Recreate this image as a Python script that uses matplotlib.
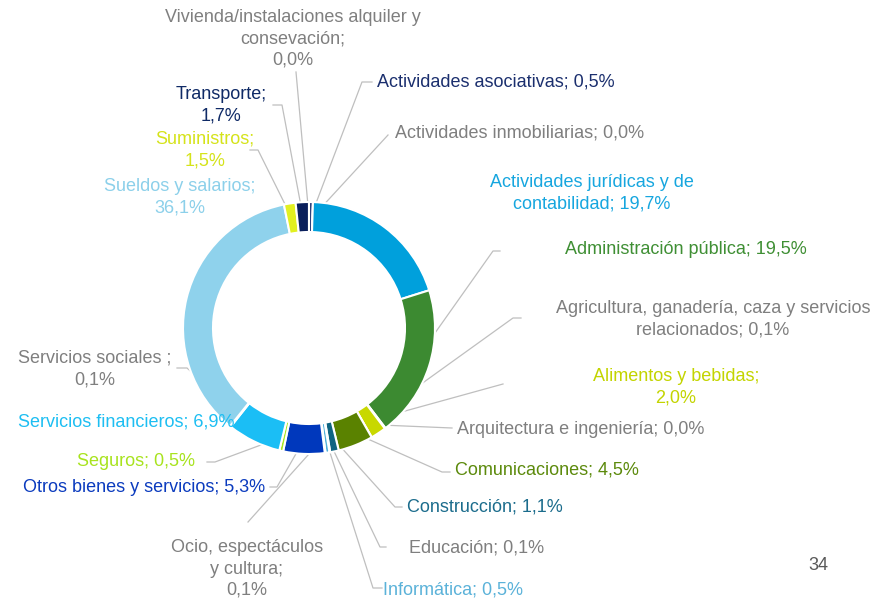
import matplotlib.pyplot as plt
import numpy as np

plt.rcParams['font.family'] = ['Liberation Sans', 'DejaVu Sans']

# Gasto por partida (%), en el orden de la tarta (sentido horario desde arriba)
categorias = [
    "Actividades asociativas",
    "Actividades inmobiliarias",
    "Actividades jurídicas y de\ncontabilidad",
    "Administración pública",
    "Agricultura, ganadería, caza y servicios\nrelacionados",
    "Alimentos y bebidas",
    "Arquitectura e ingeniería",
    "Comunicaciones",
    "Construcción",
    "Educación",
    "Informática",
    "Ocio, espectáculos\ny cultura",
    "Otros bienes y servicios",
    "Seguros",
    "Servicios financieros",
    "Servicios sociales ",
    "Sueldos y salarios",
    "Suministros",
    "Transporte",
    "Vivienda/instalaciones alquiler y\nconsevación",
]
porcentajes = [0.5, 0.0, 19.7, 19.5, 0.1, 2.0, 0.0, 4.5, 1.1, 0.1,
               0.5, 0.1, 5.3, 0.5, 6.9, 0.1, 36.1, 1.5, 1.7, 0.0]
separador = ["; ", "; ", "; ", "; ", "; ", ";\n", "; ", "; ", "; ", "; ",
             "; ", ";\n", "; ", "; ", "; ", ";\n", ";\n", ";\n", ";\n", ";\n"]

GRIS = '#7F7F7F'
colores = ['#12286A', '#A0A0A0', '#00A0DC', '#3C8A31', '#8AA05A', '#C8D800',
           '#A0A0A0', '#5A8200', '#0E6482', '#7FB8D0', '#4FB0DA', '#9A9A9A',
           '#0038BC', '#A6E620', '#1BBEF5', '#B0B0B0', '#8FD2EC', '#E2F020',
           '#0A1F5C', '#A0A0A0']
colores_texto = ['#1B2F6E', GRIS, '#16A6DF', '#3F8F34', GRIS, '#C3D400',
                 GRIS, '#5C8A0C', '#1B6C8C', GRIS, '#5BB2D9', GRIS,
                 '#0B3BBE', '#A8E31E', '#1DBEF2', GRIS, '#8CD0EA', '#D5E31A',
                 '#0F2A66', GRIS]

# posicion de cada etiqueta (px) y quiebros de su linea guia
pos_etiqueta = [(377, 82, 'left'), (395, 133, 'left'), (592, 193, 'center'),
                (686, 250, 'center'), (713, 319, 'center'), (676, 387, 'center'),
                (457, 430, 'left'), (455, 470, 'left'), (407, 507, 'left'),
                (409, 548, 'left'), (383, 590, 'left'), (247, 569, 'center'),
                (265, 488, 'right'), (195, 462, 'right'), (18, 422, 'left'),
                (95, 369, 'center'), (180, 197, 'center'), (205, 150, 'center'),
                (221, 105, 'center'), (293, 39, 'center')]
guias = [[(372, 82), (362, 82)], [(388, 135)], None,
         [(500, 251), (493, 251)], [(521, 318), (513, 318)], [(503, 384)],
         [(452, 428)], [(450, 472), (442, 472)], [(402, 507), (395, 507)],
         [(386, 547), (380, 547)], [(382, 588), (373, 588)], [(248, 522)],
         [(270, 487), (277, 487)], [(207, 462), (215, 462)], None,
         [(177, 368), (187, 368)], None, [(250, 150), (258, 150)],
         [(273, 105), (282, 105)], [(296, 72)]]

cx, cy, R, ancho = 309, 328, 126, 30

fig = plt.figure(figsize=(8.92, 5.98), dpi=100)
ax = fig.add_axes([0, 0, 1, 1])

# eje y invertido: startangle=-90 es arriba y counterclock=True gira en sentido horario
wedges, _ = ax.pie(porcentajes, colors=colores, startangle=-90, counterclock=True,
                   center=(cx, cy), radius=R,
                   wedgeprops=dict(width=ancho, edgecolor='white', linewidth=1.5))

ax.set_xlim(0, 892)
ax.set_ylim(598, 0)
ax.set_aspect('equal')
ax.axis('off')

r_medio = R - ancho / 2
for w, cat, v, sep, c, (x, y, ha), g in zip(wedges, categorias, porcentajes, separador,
                                             colores_texto, pos_etiqueta, guias):
    texto = cat + sep + f"{v:.1f}".replace('.', ',') + "%"
    ax.text(x, y, texto, ha=ha, va='center', multialignment='center',
            fontsize=13, color=c, linespacing=1.32)
    if g is None:
        continue
    ang = np.deg2rad((w.theta1 + w.theta2) / 2)
    ancla = (cx + r_medio * np.cos(ang), cy + r_medio * np.sin(ang))
    puntos = g + [ancla]
    ax.plot([p[0] for p in puntos], [p[1] for p in puntos],
            color='#BFBFBF', lw=0.9, zorder=0.5)

ax.text(818, 565, "34", ha='center', va='center', fontsize=13, color='#595959')

fig.savefig('out.png', dpi=100)
